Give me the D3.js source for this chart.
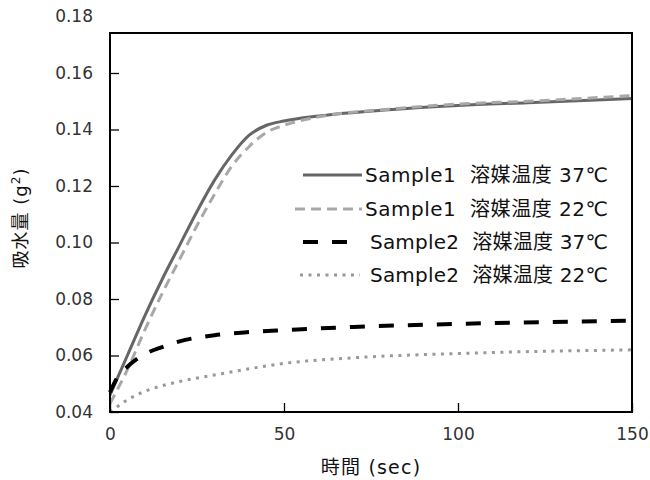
<!DOCTYPE html>
<html>
<head>
<meta charset="utf-8">
<script src="https://cdn.jsdelivr.net/npm/d3@7"></script>
<style>
  body { margin: 0; background: #fff; }
  text { font-family: "DejaVu Sans", "Noto Sans CJK JP", sans-serif; }
</style>
</head>
<body>
<div id="chart"></div>
<script>
var w = 650, h = 480;
var left = 110, right = 632, bottom = 412, top0 = 16.5, frameTop = 33;

// data
var yTicks = [0.04, 0.06, 0.08, 0.10, 0.12, 0.14, 0.16, 0.18];
var xTicks = [0, 50, 100, 150];

var s1Time = [0, 5, 10, 15, 20, 25, 30, 35, 40, 45, 50, 60, 80, 100, 120, 150];
var s1Hot  = [0.046, 0.060, 0.074, 0.087, 0.099, 0.111, 0.122, 0.131, 0.138, 0.1415, 0.143, 0.1448, 0.1470, 0.1485, 0.1495, 0.151];
var s1Cool = [0.043, 0.055, 0.069, 0.082, 0.094, 0.106, 0.117, 0.127, 0.134, 0.139, 0.1415, 0.1445, 0.1472, 0.149, 0.150, 0.152];

var s2Time = [0, 2, 5, 10, 15, 20, 30, 40, 50, 70, 100, 150];
var s2Hot  = [0.047, 0.052, 0.056, 0.0605, 0.063, 0.065, 0.0672, 0.0683, 0.069, 0.0701, 0.0712, 0.0723];
var s2Cool = [0.040, 0.0418, 0.0443, 0.0473, 0.0493, 0.0508, 0.0531, 0.0553, 0.0572, 0.0592, 0.0607, 0.062];

var labels = ["Sample1  溶媒温度 37℃", "Sample1  溶媒温度 22℃", "Sample2  溶媒温度 37℃", "Sample2  溶媒温度 22℃"];

var series = [
  { t: s1Time, v: s1Hot,  color: "#666666", width: 3,   dash: null },
  { t: s1Time, v: s1Cool, color: "#a8a8a8", width: 3,   dash: "10,6" },
  { t: s2Time, v: s2Hot,  color: "#000000", width: 4,   dash: "15,14" },
  { t: s2Time, v: s2Cool, color: "#999999", width: 3,   dash: "3,5.5" }
];

var svg = d3.select("#chart").append("svg")
  .attr("width", w).attr("height", h);

var xScale = d3.scaleLinear().domain([0, 150]).range([left, right]);
var yScale = d3.scaleLinear().domain([0.04, 0.18]).range([bottom, top0]);

// lines
var line = d3.line()
  .x(function(d) { return xScale(d[0]); })
  .y(function(d) { return yScale(d[1]); })
  .curve(d3.curveMonotoneX);

series.forEach(function(s) {
  var pts = s.t.map(function(t, i) { return [t, s.v[i]]; });
  svg.append("path")
    .datum(pts)
    .attr("fill", "none")
    .attr("stroke", s.color)
    .attr("stroke-width", s.width)
    .attr("stroke-dasharray", s.dash)
    .attr("d", line);
});

// frame
svg.append("rect")
  .attr("x", left).attr("y", frameTop)
  .attr("width", right - left).attr("height", bottom - frameTop)
  .attr("fill", "none").attr("stroke", "#000").attr("stroke-width", 2);

// axes, ticks pointing inward
var yAxis = d3.axisLeft(yScale)
  .tickValues(yTicks)
  .tickSize(-9)
  .tickPadding(17)
  .tickFormat(d3.format(".2f"));
var gy = svg.append("g").attr("transform", "translate(" + left + ",0)").call(yAxis);
gy.select(".domain").remove();
gy.selectAll(".tick line").attr("stroke", "#000").attr("stroke-width", 1.3)
  .filter(function(d) { return d > 0.17; }).remove();
gy.selectAll(".tick text").attr("font-size", 17).attr("fill", "#333")
  .attr("font-family", "'DejaVu Sans', sans-serif");

var xAxis = d3.axisBottom(xScale)
  .tickValues(xTicks)
  .tickSize(-9)
  .tickPadding(16);
var gx = svg.append("g").attr("transform", "translate(0," + bottom + ")").call(xAxis);
gx.select(".domain").remove();
gx.selectAll(".tick line").attr("stroke", "#000").attr("stroke-width", 1.3);
gx.selectAll(".tick text").attr("font-size", 17).attr("fill", "#333")
  .attr("font-family", "'DejaVu Sans', sans-serif");

// axis titles
svg.append("text")
  .attr("x", (left + right) / 2).attr("y", 474)
  .attr("text-anchor", "middle").attr("font-size", 19).attr("fill", "#111")
  .attr("letter-spacing", 1.2)
  .text("時間 (sec)");

svg.append("text")
  .attr("transform", "translate(27," + 218 + ") rotate(-90)")
  .attr("text-anchor", "middle").attr("font-size", 18).attr("fill", "#111")
  .attr("letter-spacing", 1)
  .html("吸水量 (g<tspan baseline-shift='super' font-size='12'>2</tspan>)");

// legend
var legY = [175, 209, 242, 275];
var legLineX = [[303, 362], [295, 362], [303, 352], [300, 360]];
var legTextX = [365, 365, 370, 370];
series.forEach(function(s, i) {
  svg.append("line")
    .attr("x1", legLineX[i][0]).attr("x2", legLineX[i][1])
    .attr("y1", legY[i]).attr("y2", legY[i])
    .attr("stroke", s.color).attr("stroke-width", s.width)
    .attr("stroke-dasharray", s.dash);
  svg.append("text")
    .attr("x", legTextX[i]).attr("y", legY[i])
    .attr("dy", "0.36em")
    .attr("font-size", 20).attr("fill", "#111")
    .attr("xml:space", "preserve")
    .style("white-space", "pre")
    .attr("textLength", 608 - legTextX[i])
    .attr("lengthAdjust", "spacing")
    .text(labels[i]);
});
</script>
</body>
</html>
